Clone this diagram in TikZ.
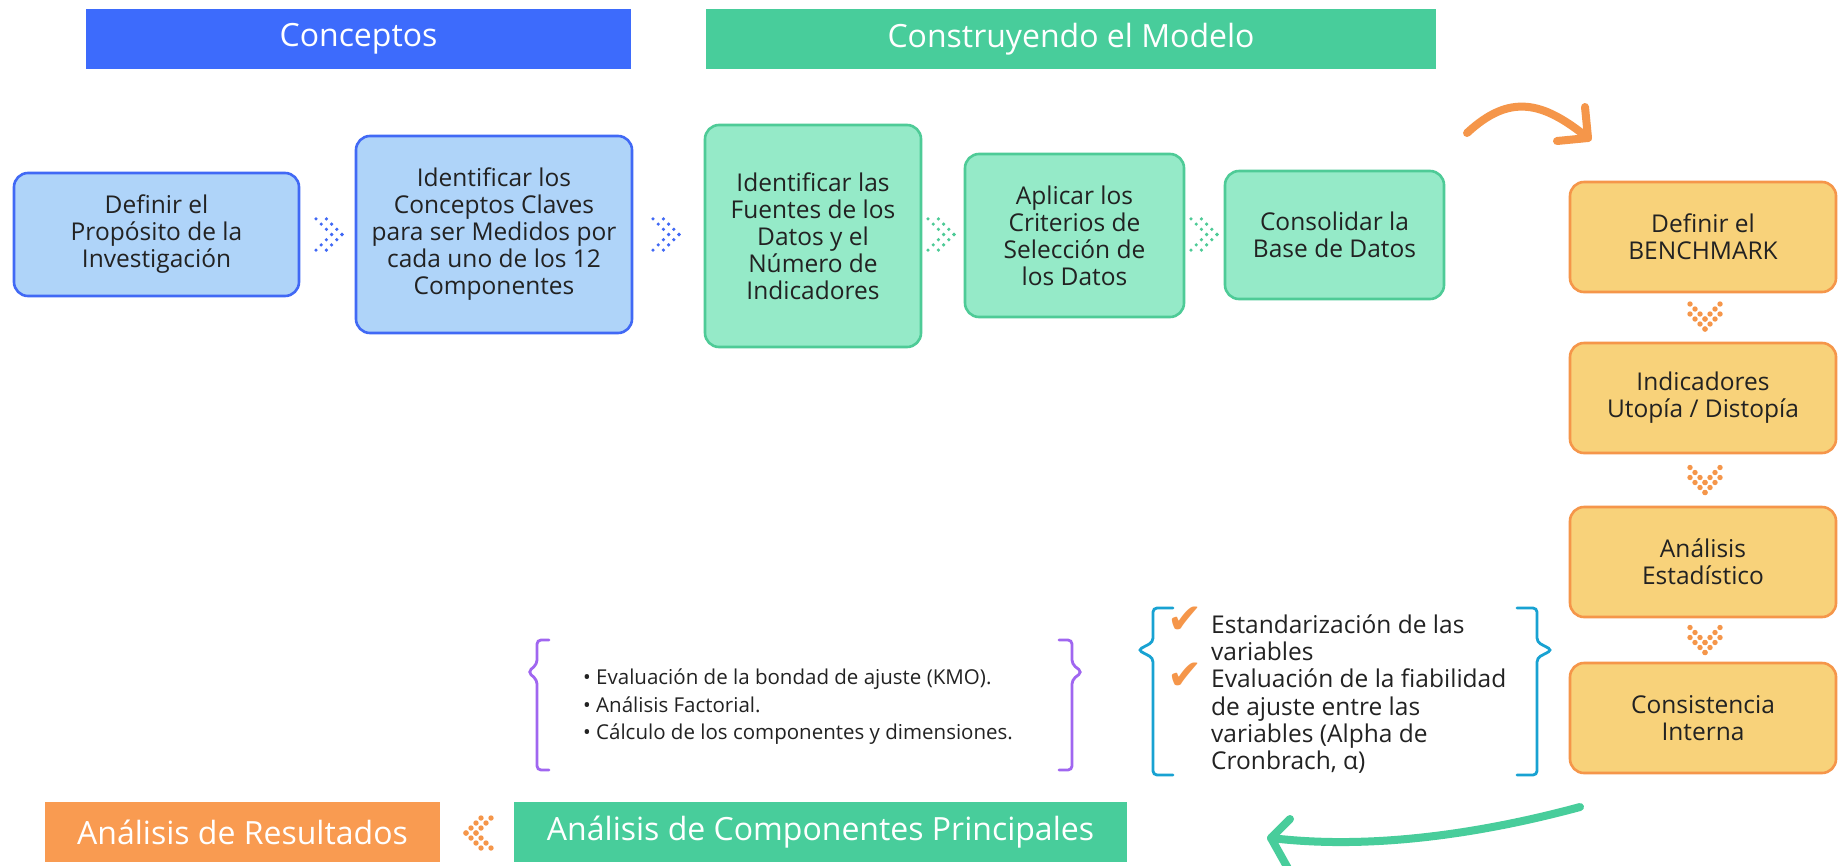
\documentclass[tikz,border=0pt]{standalone}
\usepackage{fontspec}
\setmainfont{Open Sans}
\newfontfamily\dejavu{DejaVu Sans}
\definecolor{blueH}{HTML}{3D6BFC}
\definecolor{blueF}{HTML}{AFD4F9}
\definecolor{blueB}{HTML}{4169F5}
\definecolor{greenH}{HTML}{48CD9B}
\definecolor{greenF}{HTML}{95EAC8}
\definecolor{greenB}{HTML}{4ECB97}
\definecolor{orangeF}{HTML}{F8D27A}
\definecolor{orangeB}{HTML}{F5964A}
\definecolor{orangeH}{HTML}{F99B51}
\definecolor{purpleB}{HTML}{A066F0}
\definecolor{cyanB}{HTML}{18A2D2}
\definecolor{txt}{HTML}{222222}
\newcommand{\dotchev}[6]{%
  \begin{scope}[shift={(#1,#2)},rotate=#3]
    \foreach \c in {0,1}{\foreach \k in {0,1,2,3}{%
      \fill[#4] ({(2.5-2*\c-\k)*#6},{\k*#6}) circle[radius=#5];
      \fill[#4] ({(2.5-2*\c-\k)*#6},{-\k*#6}) circle[radius=#5];}}
  \end{scope}}
\tikzset{
  boxtxt/.style={font=\fontsize{24.5}{27}\selectfont, text=txt, align=center, inner sep=0pt},
  rbox/.style={boxtxt, rounded corners=14pt, line width=2.6pt},
  bluebox/.style={rbox, draw=blueB, fill=blueF},
  greenbox/.style={rbox, draw=greenB, fill=greenF},
  orangebox/.style={rbox, draw=orangeB, fill=orangeF, minimum width=266pt, minimum height=110pt},
  header/.style={font=\fontsize{32}{36}\selectfont, text=white, inner sep=0pt, minimum height=60pt},
  listtxt/.style={text=txt, align=left, inner sep=0pt, anchor=west},
  brace/.style={line width=2.8pt, rounded corners=4pt, line cap=round},
  bigarrow/.style={line width=8pt, line cap=round, line join=round},
  checkmk/.style={text=orangeB, inner sep=0pt, font=\dejavu\fontsize{42}{42}\selectfont},
}
\begin{document}
\begin{tikzpicture}[x=1pt,y=-1pt]
\useasboundingbox (0,0) rectangle (1838,865);
\fill[white] (0,0) rectangle (1838,865);

% headers
\node[header, fill=blueH, minimum width=545pt] (h1) at (358.5,39) {Conceptos};
\node[header, fill=greenH, minimum width=730pt] (h2) at (1071,39) {Construyendo el Modelo};
\node[header, fill=orangeH, minimum width=395pt] (h3) at (242.5,832) {Análisis de Resultados};
\node[header, fill=greenH, minimum width=613pt] (h4) at (820.5,832) {Análisis de Componentes Principales};

% blue boxes
\node[bluebox, minimum width=285pt, minimum height=123pt] (b1) at (156.5,234.5) {Definir el\\Propósito de la\\Investigación};
\node[bluebox, minimum width=276pt, minimum height=197pt] (b2) at (494,234.5) {Identificar los\\Conceptos Claves\\para ser Medidos por\\cada uno de los 12\\Componentes};

% green boxes
\node[greenbox, minimum width=216pt, minimum height=222pt] (g1) at (813,236) {Identificar las\\Fuentes de los\\Datos y el\\Número de\\Indicadores};
\node[greenbox, minimum width=219pt, minimum height=163pt] (g2) at (1074.5,235.5) {Aplicar los\\Criterios de\\Selección de\\los Datos};
\node[greenbox, minimum width=219pt, minimum height=128pt] (g3) at (1334.5,235) {Consolidar la\\Base de Datos};

% orange boxes
\node[orangebox] (o1) at (1703,237) {Definir el\\BENCHMARK};
\node[orangebox] (o2) at (1703,398) {Indicadores\\Utopía / Distopía};
\node[orangebox] (o3) at (1703,562) {Análisis\\Estadístico};
\node[orangebox] (o4) at (1703,718) {Consistencia\\Interna};

% dotted chevrons
\dotchev{329}{234.5}{0}{blueB}{1.8}{5.2}
\dotchev{666}{234.5}{0}{blueB}{1.8}{5.2}
\dotchev{941}{234.5}{0}{greenB}{1.8}{5.2}
\dotchev{1204}{234.5}{0}{greenB}{1.8}{5.2}
\dotchev{1705}{316.5}{-90}{orangeB}{2.7}{5}
\dotchev{1705}{480}{-90}{orangeB}{2.7}{5}
\dotchev{1705}{640}{-90}{orangeB}{2.7}{5}
\dotchev{478.5}{833}{180}{orangeB}{2.7}{5}

% orange curved arrow
\coordinate (oa1) at (1467,133);
\coordinate (oa2) at (1588,138);
\coordinate (oaL) at (1585,107);
\coordinate (oaR) at (1557,141);
\draw[bigarrow, draw=orangeB] (oa1) .. controls (1510,93) and (1543,101.5) .. (oa2);
\draw[bigarrow, draw=orangeB] (oaL) -- (oa2) -- (oaR);

% green curved arrow
\coordinate (ga1) at (1580,807);
\coordinate (ga2) at (1271,838);
\coordinate (gaU) at (1290,819);
\coordinate (gaD) at (1290,872);
\draw[bigarrow, draw=greenH] (ga1) .. controls (1480,834) and (1370,850) .. (ga2);
\draw[bigarrow, draw=greenH] (gaU) -- (ga2) -- (gaD);

% purple bracket list
\draw[brace, draw=purpleB] (549,640) -- (537,640) -- (537,664) -- (528,672) -- (537,680) -- (537,770) -- (549,770);
\draw[brace, draw=purpleB] (1059,640) -- (1072,640) -- (1072,664) -- (1082,672) -- (1072,680) -- (1072,770) -- (1059,770);
\node[listtxt, font=\fontsize{20.5}{27.5}\selectfont] (pl) at (583,707) {• Evaluación de la bondad de ajuste (KMO).\\• Análisis Factorial.\\• Cálculo de los componentes y dimensiones.};

% cyan bracket list
\draw[brace, draw=cyanB] (1173,608) -- (1153,608) -- (1153,642) -- (1138,650) -- (1153,658) -- (1153,775) -- (1173,775);
\draw[brace, draw=cyanB] (1517,608) -- (1537,608) -- (1537,642) -- (1552,650) -- (1537,658) -- (1537,775) -- (1517,775);
\node[checkmk] (ck1) at (1185,620) {✔};
\node[checkmk] (ck2) at (1185,676) {✔};
\node[listtxt, font=\fontsize{24.5}{27.3}\selectfont] (cl) at (1211,694) {Estandarización de las\\variables\\Evaluación de la fiabilidad\\de ajuste entre las\\variables (Alpha de\\Cronbrach, α)};
\end{tikzpicture}
\end{document}
